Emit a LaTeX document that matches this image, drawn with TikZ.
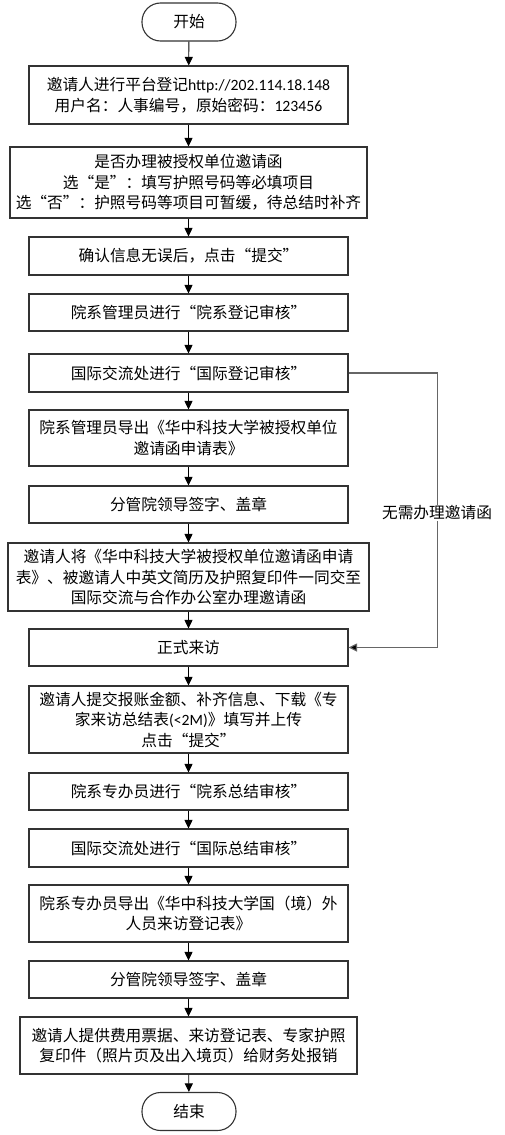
\documentclass[tikz,border=0pt]{standalone}
\usepackage{fontspec}
\setmainfont{Noto Sans CJK SC}
\newfontfamily\lat{Carlito}
\usetikzlibrary{arrows.meta}
\begin{document}
\begin{tikzpicture}[x=1pt,y=-1pt,
  txt/.style={font=\fontsize{15.7}{20.5}\selectfont},
  box/.style={txt,draw=black!80,line width=1.1pt,align=center,inner sep=0pt,minimum width=319pt,minimum height=38pt},
  term/.style={txt,draw=black!80,line width=1.1pt,rounded corners=18.5pt,minimum width=94pt,minimum height=38pt,inner sep=0pt},
  arr/.style={-{Triangle[length=8.5pt,width=8pt]},line width=0.9pt,black},
  side/.style={line width=1.1pt,draw=black!60,-{Triangle[length=8.5pt,width=8pt,fill=black]}},
  lbl/.style={txt,fill=white,inner sep=1pt}]
\useasboundingbox (0,0) rectangle (504,1135);
\node[term] (start) at (189,22) {开始};
\node[box,minimum height=58pt] (b1) at (188.5,95) {邀请人进行平台登记{\lat http://202.114.18.148}\\用户名：人事编号，原始密码：{\lat 123456}};
\node[box,minimum width=357pt,minimum height=71pt] (b2) at (188.5,182.5) {是否办理被授权单位邀请函\\选“是”：填写护照号码等必填项目\\选“否”：护照号码等项目可暂缓，待总结时补齐};
\node[box] (b3) at (188.5,256) {确认信息无误后，点击“提交”};
\node[box,minimum height=37pt] (b4) at (188.5,312.5) {院系管理员进行“院系登记审核”};
\node[box] (b5) at (188.5,373) {国际交流处进行“国际登记审核”};
\node[box,minimum height=56pt] (b6) at (188.5,438) {院系管理员导出《华中科技大学被授权单位\\邀请函申请表》};
\node[box,minimum height=37pt] (b7) at (188.5,504.5) {分管院领导签字、盖章};
\node[box,minimum width=361pt,minimum height=68pt] (b8) at (188.5,577) {邀请人将《华中科技大学被授权单位邀请函申请\\表》、被邀请人中英文简历及护照复印件一同交至\\国际交流与合作办公室办理邀请函};
\node[box,minimum height=37pt] (b9) at (188.5,647.5) {正式来访};
\node[box,minimum height=67pt] (b10) at (188.5,719.5) {邀请人提交报账金额、补齐信息、下载《专\\家来访总结表{\lat (<2M)}》填写并上传\\点击“提交”};
\node[box,minimum height=37pt] (b11) at (188.5,791.5) {院系专办员进行“院系总结审核”};
\node[box] (b12) at (188.5,848) {国际交流处进行“国际总结审核”};
\node[box,minimum height=57pt] (b13) at (188.5,913.5) {院系专办员导出《华中科技大学国（境）外\\人员来访登记表》};
\node[box,minimum height=37pt] (b14) at (188.5,979.5) {分管院领导签字、盖章};
\node[box,minimum width=337pt,minimum height=57pt] (b15) at (188.5,1045.5) {邀请人提供费用票据、来访登记表、专家护照\\复印件（照片页及出入境页）给财务处报销};
\node[term] (end) at (189,1111.5) {结束};
\draw[arr] (start) -- (b1);
\draw[arr] (b1) -- (b2);
\draw[arr] (b2) -- (b3);
\draw[arr] (b3) -- (b4);
\draw[arr] (b4) -- (b5);
\draw[arr] (b5) -- (b6);
\draw[arr] (b6) -- (b7);
\draw[arr] (b7) -- (b8);
\draw[arr] (b8) -- (b9);
\draw[arr] (b9) -- (b10);
\draw[arr] (b10) -- (b11);
\draw[arr] (b11) -- (b12);
\draw[arr] (b12) -- (b13);
\draw[arr] (b13) -- (b14);
\draw[arr] (b14) -- (b15);
\draw[arr] (b15) -- (end);
\coordinate (r1) at (437.5,373);
\coordinate (r2) at (437.5,647.5);
\draw[side] (b5.east) -- (r1) -- (r2) -- (b9.east);
\node[lbl] (skip) at (437,513) {无需办理邀请函};
\end{tikzpicture}
\end{document}
